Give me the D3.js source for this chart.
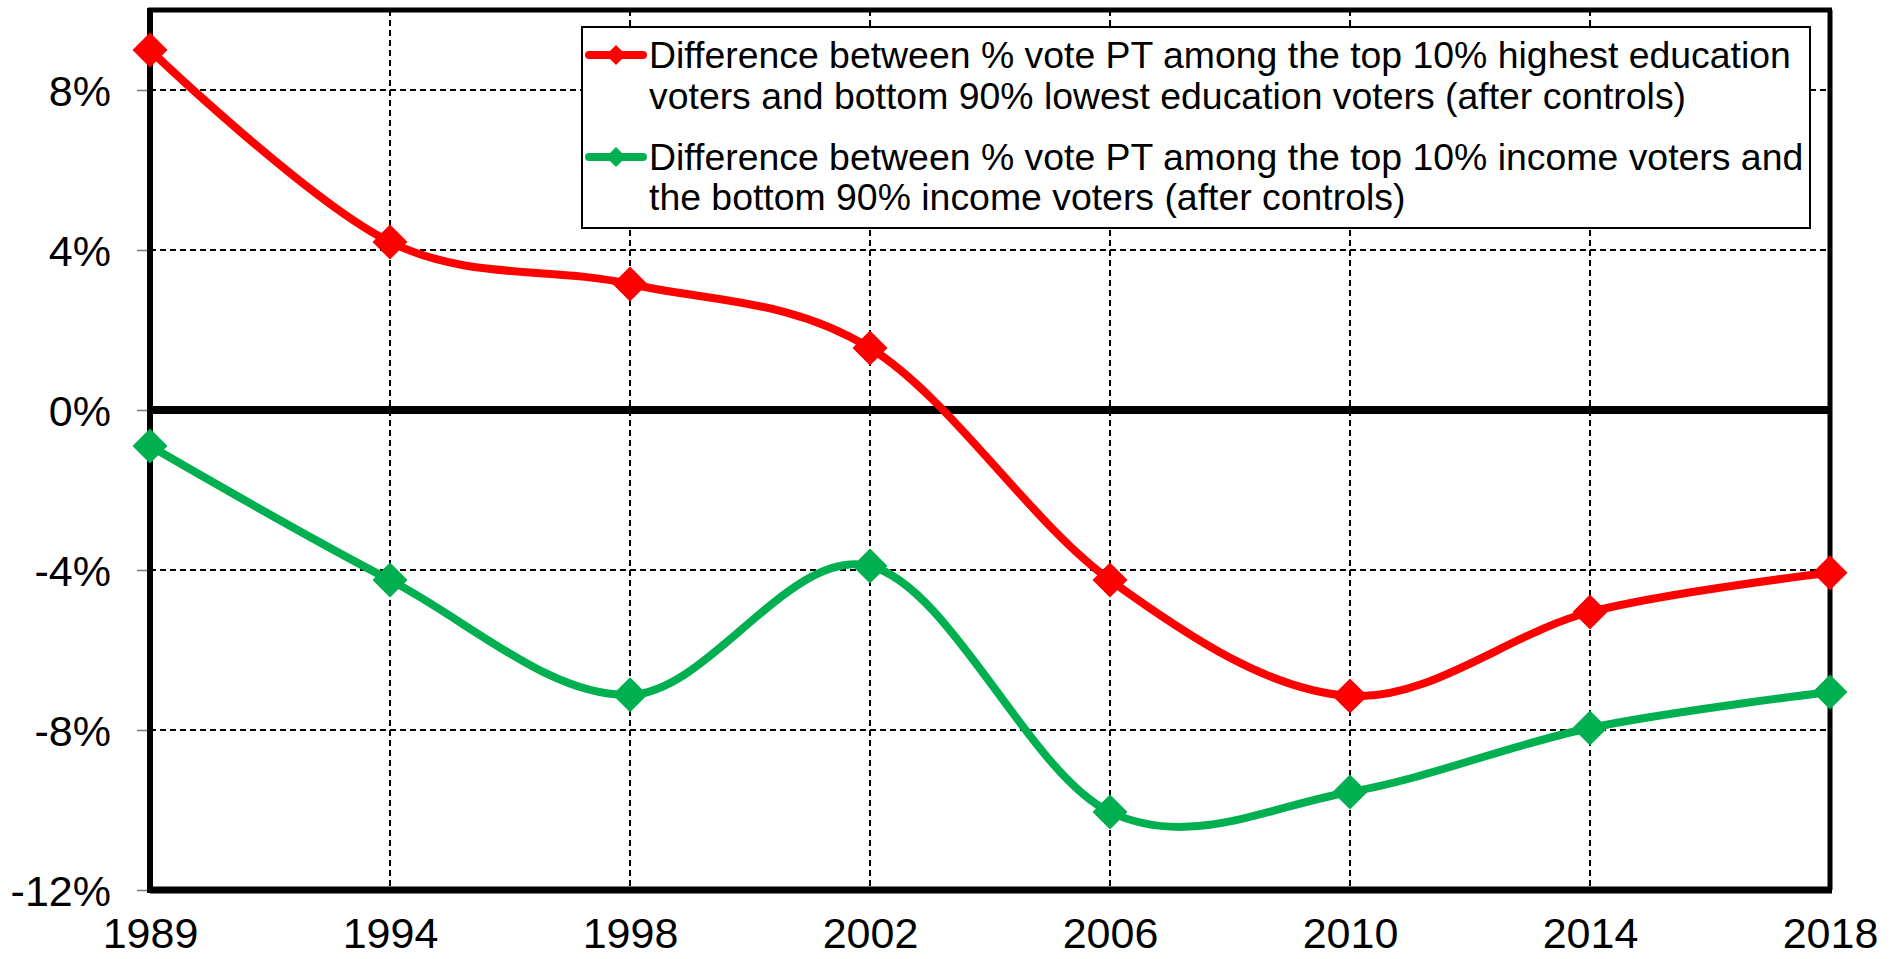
<!DOCTYPE html>
<html>
<head>
<meta charset="utf-8">
<script src="https://cdn.jsdelivr.net/npm/d3@7"></script>
<style>
  html, body { margin: 0; padding: 0; background: #fff; }
  svg { display: block; }
  text { font-family: "Liberation Sans", Arial, sans-serif; fill: #000; }
</style>
</head>
<body>
<svg id="chart" width="1892" height="959"></svg>
<script>
const years = ["1989", "1994", "1998", "2002", "2006", "2010", "2014", "2018"];
const educationGap = [9.0, 4.2, 3.15, 1.55, -4.25, -7.15, -5.05, -4.07];
const incomeGap = [-0.9, -4.25, -7.12, -3.9, -10.05, -9.55, -7.95, -7.05];
const yTicks = [-12, -8, -4, 0, 4, 8];
const legendLabels = [
  ["Difference between % vote PT among the top 10% highest education",
   "voters and bottom 90% lowest education voters (after controls)"],
  ["Difference between % vote PT among the top 10% income voters and",
   "the bottom 90% income voters (after controls)"]
];
const seriesColors = ["#ff0000", "#00b050"];

(function () {
const svg = d3.select("#chart");
const pLeft = 150, pRight = 1830, pTop = 10, pBottom = 890;

const x = d3.scalePoint().domain(years).range([pLeft, pRight]).padding(0);
const y = d3.scaleLinear().domain([-12, 10]).range([pBottom, pTop]);

// gridlines
const grid = svg.append("g");
grid.selectAll("line.h").data(yTicks.filter(v => v !== 0 && v !== -12))
  .join("line").attr("class", "h")
  .attr("x1", pLeft).attr("x2", pRight)
  .attr("y1", d => y(d)).attr("y2", d => y(d))
  .attr("stroke", "#000").attr("stroke-width", 2).attr("stroke-dasharray", "6,4");
grid.selectAll("line.v").data(years.slice(1, -1))
  .join("line").attr("class", "v")
  .attr("x1", d => x(d)).attr("x2", d => x(d))
  .attr("y1", pTop).attr("y2", pBottom)
  .attr("stroke", "#000").attr("stroke-width", 2).attr("stroke-dasharray", "6,4");

// y axis with labels
const yAxis = d3.axisLeft(y).tickValues(yTicks).tickSize(13).tickPadding(26)
  .tickFormat(d => d + "%");
const yg = svg.append("g").attr("transform", `translate(${pLeft},0)`).call(yAxis);
yg.select(".domain").remove();
yg.selectAll(".tick line").attr("stroke", "#777").attr("stroke-width", 1.5);
yg.selectAll(".tick text").attr("font-size", 43).attr("font-family", "Liberation Sans, Arial, sans-serif").attr("fill", "#000").attr("dy", "0.36em");

// x axis labels
const xAxis = d3.axisBottom(x).tickSize(0).tickPadding(27);
const xg = svg.append("g").attr("transform", `translate(0,${pBottom})`).call(xAxis);
xg.select(".domain").remove();
xg.selectAll(".tick text").attr("font-size", 43).attr("font-family", "Liberation Sans, Arial, sans-serif").attr("fill", "#000");

// frame
svg.append("line").attr("x1", pLeft - 2).attr("x2", pRight + 2).attr("y1", pTop).attr("y2", pTop)
  .attr("stroke", "#000").attr("stroke-width", 5);
svg.append("line").attr("x1", pRight).attr("x2", pRight).attr("y1", pTop).attr("y2", pBottom)
  .attr("stroke", "#000").attr("stroke-width", 5);
svg.append("line").attr("x1", pLeft).attr("x2", pLeft).attr("y1", pTop - 2).attr("y2", pBottom + 3)
  .attr("stroke", "#000").attr("stroke-width", 6);
svg.append("line").attr("x1", pLeft).attr("x2", pRight + 2).attr("y1", pBottom).attr("y2", pBottom)
  .attr("stroke", "#000").attr("stroke-width", 7);
// zero line
svg.append("line").attr("x1", pLeft).attr("x2", pRight).attr("y1", y(0)).attr("y2", y(0))
  .attr("stroke", "#000").attr("stroke-width", 8);

// series
const line = d3.line().x((d, i) => x(years[i])).y(d => y(d)).curve(d3.curveCardinal.tension(0));
const diamond = s => `M0,${-s}L${s},0L0,${s}L${-s},0Z`;
[educationGap, incomeGap].forEach((vals, k) => {
  const g = svg.append("g");
  g.append("path").attr("d", line(vals)).attr("fill", "none")
    .attr("stroke", seriesColors[k]).attr("stroke-width", 8).attr("stroke-linecap", "round");
  g.selectAll("path.m").data(vals).join("path").attr("class", "m")
    .attr("d", diamond(17.5))
    .attr("transform", (d, i) => `translate(${x(years[i])},${y(d)})`)
    .attr("fill", seriesColors[k]);
});

// legend
const lg = svg.append("g");
const lx = 582, ly = 27, lw = 1228, lh = 201;
lg.append("rect").attr("x", lx).attr("y", ly).attr("width", lw).attr("height", lh)
  .attr("fill", "#fff").attr("stroke", "#000").attr("stroke-width", 2);
const rowY = [[55, 96], [157, 197]];
legendLabels.forEach((lines, k) => {
  const cy = rowY[k][0];
  lg.append("line").attr("x1", lx + 7).attr("x2", lx + 61).attr("y1", cy).attr("y2", cy)
    .attr("stroke", seriesColors[k]).attr("stroke-width", 8).attr("stroke-linecap", "round");
  lg.append("path").attr("d", diamond(10)).attr("transform", `translate(${lx + 34},${cy})`)
    .attr("fill", seriesColors[k]);
  lines.forEach((t, j) => {
    lg.append("text").attr("x", lx + 67).attr("y", rowY[k][j]).attr("dy", "0.35em")
      .attr("font-size", 37.4).text(t);
  });
});
})();
</script>
</body>
</html>
